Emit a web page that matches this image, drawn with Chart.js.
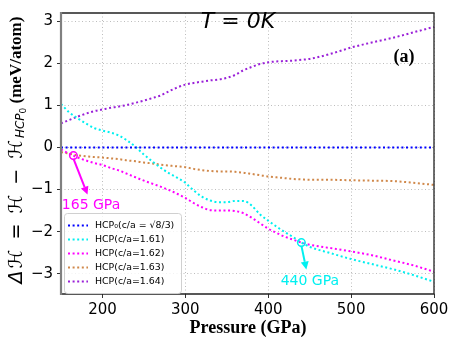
<!DOCTYPE html>
<html>
<head>
<meta charset="utf-8">
<script src="https://cdn.jsdelivr.net/npm/chart.js@4.4.1/dist/chart.umd.min.js"></script>
<style>
html,body{margin:0;padding:0;background:#fff;}
#wrap{width:457px;height:346px;position:relative;}
</style>
</head>
<body>
<div id="wrap"><canvas id="c" width="457" height="346"></canvas></div>
<script>
// ---- data ----
const pressure = [150,160,170,180,190,200,210,220,230,240,250,260,270,280,290,300,310,320,330,340,350,360,370,380,390,400,410,420,430,440,450,475,500,525,550,575,600];
const hcp0   = pressure.map(() => 0);
const ca161  = [1.03,0.83,0.69,0.57,0.46,0.40,0.35,0.28,0.16,0.01,-0.17,-0.33,-0.48,-0.61,-0.72,-0.84,-1.02,-1.17,-1.26,-1.30,-1.30,-1.27,-1.27,-1.38,-1.59,-1.74,-1.88,-2.01,-2.13,-2.26,-2.36,-2.51,-2.65,-2.77,-2.89,-3.03,-3.19];
const ca162  = [-0.05,-0.15,-0.24,-0.31,-0.37,-0.42,-0.49,-0.55,-0.63,-0.71,-0.79,-0.86,-0.93,-1.01,-1.10,-1.20,-1.32,-1.42,-1.49,-1.50,-1.50,-1.51,-1.56,-1.67,-1.80,-1.93,-2.03,-2.12,-2.19,-2.26,-2.31,-2.39,-2.47,-2.56,-2.68,-2.80,-2.95];
const ca163  = [-0.11,-0.15,-0.19,-0.21,-0.23,-0.24,-0.26,-0.28,-0.31,-0.33,-0.36,-0.38,-0.41,-0.43,-0.45,-0.47,-0.51,-0.54,-0.56,-0.57,-0.57,-0.58,-0.60,-0.63,-0.66,-0.69,-0.71,-0.73,-0.75,-0.76,-0.77,-0.77,-0.78,-0.79,-0.80,-0.84,-0.89];
const ca164  = [0.57,0.65,0.73,0.80,0.86,0.90,0.94,0.97,1.01,1.06,1.11,1.17,1.23,1.33,1.42,1.49,1.53,1.56,1.59,1.61,1.65,1.72,1.83,1.91,1.98,2.02,2.04,2.05,2.06,2.08,2.10,2.22,2.37,2.49,2.60,2.73,2.86];
const seriesLabels = ['HCP\u2080(c/a = \u221A8/3)','HCP(c/a=1.61)','HCP(c/a=1.62)','HCP(c/a=1.63)','HCP(c/a=1.64)'];
const xTicks = [200,300,400,500,600];
const yTicks = [-3,-2,-1,0,1,2,3];
// annotations: marker (p,v), arrow end (ep,ev), label anchor (tp,tv)
const note165 = {p:165, v:-0.195, ep:182, ev:-1.12, text:'165 GPa', tp:151, tv:-1.38};
const note440 = {p:440, v:-2.26, ep:446, ev:-2.9, text:'440 GPa', tp:415, tv:-3.17};

const colors = ['#0000ff','#00f0f0','#ff00ff','#d0884a','#9a20d8'];
const series = [hcp0, ca161, ca162, ca163, ca164];

const datasets = series.map((s,i)=>({
  label: seriesLabels[i],
  data: pressure.map((p,j)=>({x:p,y:s[j]})),
  borderColor: colors[i],
  backgroundColor: colors[i],
  borderWidth: 2,
  borderDash: [2,2.6],
  borderCapStyle: 'butt',
  pointRadius: 0,
  cubicInterpolationMode: 'monotone',
  fill: false
}));

function arrow(ctx, x1,y1,x2,y2,color){
  ctx.save();
  ctx.strokeStyle=color; ctx.fillStyle=color; ctx.lineWidth=2;
  const a=Math.atan2(y2-y1,x2-x1), hl=8, hw=4;
  const bx=x2-hl*Math.cos(a), by=y2-hl*Math.sin(a);
  ctx.beginPath(); ctx.moveTo(x1,y1); ctx.lineTo(bx,by); ctx.stroke();
  ctx.beginPath(); ctx.moveTo(x2,y2);
  ctx.lineTo(bx+hw*Math.sin(a), by-hw*Math.cos(a));
  ctx.lineTo(bx-hw*Math.sin(a), by+hw*Math.cos(a));
  ctx.closePath(); ctx.fill();
  ctx.restore();
}

const decor = {
  id:'decor',
  afterDatasetsDraw(chart){
    const {ctx, chartArea:ca, scales:{x,y}} = chart;
    // spines
    ctx.save();
    ctx.strokeStyle='#222'; ctx.lineWidth=1.3;
    ctx.beginPath();
    ctx.moveTo(ca.left,ca.top); ctx.lineTo(ca.right,ca.top); ctx.lineTo(ca.right,ca.bottom); ctx.lineTo(ca.left,ca.bottom);
    ctx.stroke();
    ctx.strokeStyle='#808080'; ctx.lineWidth=2.2;
    ctx.beginPath(); ctx.moveTo(ca.left,ca.top-1); ctx.lineTo(ca.left,ca.bottom+1); ctx.stroke();
    ctx.restore();

    // annotations
    [[note165,colors[2]],[note440,colors[1]]].forEach(([n,c])=>{
      const px=x.getPixelForValue(n.p), py=y.getPixelForValue(n.v);
      ctx.save();
      ctx.strokeStyle=c; ctx.lineWidth=1.5;
      ctx.beginPath(); ctx.arc(px,py,3.8,0,Math.PI*2); ctx.stroke();
      ctx.restore();
      arrow(ctx, px, py+3, x.getPixelForValue(n.ep), y.getPixelForValue(n.ev), c);
      ctx.save();
      ctx.fillStyle=c; ctx.font='14px "DejaVu Sans"'; ctx.textBaseline='middle'; ctx.textAlign='left';
      ctx.fillText(n.text, x.getPixelForValue(n.tp), y.getPixelForValue(n.tv));
      ctx.restore();
    });

    // T = 0K and (a)
    ctx.save();
    ctx.fillStyle='#000';
    ctx.font='italic 22px "DejaVu Sans"'; ctx.textAlign='center'; ctx.textBaseline='middle';
    ctx.fillText('T = 0K', 238, 22);
    ctx.font='bold 18px "Liberation Serif"';
    ctx.fillText('(a)', 404, 57);
    ctx.restore();

    // legend
    const lx=64, ly=213, lw=117, lh=80;
    ctx.save();
    ctx.fillStyle='rgba(255,255,255,0.8)'; ctx.strokeStyle='#d0d0d0'; ctx.lineWidth=1;
    ctx.beginPath(); ctx.roundRect(lx+0.5,ly+0.5,lw,lh,3); ctx.fill(); ctx.stroke();
    chart.data.datasets.forEach((d,i)=>{
      const yy = ly+12.5+i*14;
      ctx.strokeStyle=d.borderColor; ctx.lineWidth=2; ctx.setLineDash([2,2.6]);
      ctx.beginPath(); ctx.moveTo(68,yy); ctx.lineTo(88,yy); ctx.stroke();
      ctx.setLineDash([]);
      ctx.fillStyle='#000'; ctx.font='9.4px "DejaVu Sans"'; ctx.textBaseline='middle'; ctx.textAlign='left';
      ctx.fillText(d.label, 95, yy);
    });
    ctx.restore();

    // y label
    ctx.save();
    ctx.translate(17,150); ctx.rotate(-Math.PI/2);
    ctx.fillStyle='#000'; ctx.textBaseline='middle'; ctx.textAlign='left';
    const f1='italic 19px "DejaVu Sans"', f2='italic 12px "DejaVu Sans"', f3='9px "DejaVu Sans"', f4='bold 17px "Liberation Serif"';
    const p1='\u0394\u210B = \u210B \u2212 \u210B', p2='HCP', p3='0', p4=' (meV/atom)';
    ctx.letterSpacing='2px';
    ctx.font=f1; const w1=ctx.measureText(p1).width;
    ctx.letterSpacing='0px';
    ctx.font=f2; const w2=ctx.measureText(p2).width;
    ctx.font=f3; const w3=ctx.measureText(p3).width;
    ctx.font=f4; const w4=ctx.measureText(p4).width;
    let cx=-(w1+w2+w3+w4)/2;
    ctx.letterSpacing='2px';
    ctx.font=f1; ctx.fillText(p1,cx,0); cx+=w1;
    ctx.letterSpacing='0px';
    ctx.font=f2; ctx.fillText(p2,cx,4); cx+=w2;
    ctx.font=f3; ctx.fillText(p3,cx,7); cx+=w3;
    ctx.font=f4; ctx.fillText(p4,cx,0);
    ctx.restore();

    // x label
    ctx.save();
    ctx.fillStyle='#000'; ctx.font='bold 18px "Liberation Serif"'; ctx.textAlign='center'; ctx.textBaseline='middle';
    ctx.fillText('Pressure (GPa)', 248, 328);
    ctx.restore();
  }
};

new Chart(document.getElementById('c'), {
  type:'line',
  data:{datasets},
  options:{
    responsive:false, animation:false, devicePixelRatio:1,
    layout:{padding:{top:7,right:23,left:0,bottom:0}},
    plugins:{legend:{display:false}, tooltip:{enabled:false}},
    scales:{
      x:{type:'linear', min:150, max:600,
        afterBuildTicks(s){ s.ticks = xTicks.map(v=>({value:v})); },
        afterFit(s){ s.height=52; },
        ticks:{color:'#000', font:{family:'DejaVu Sans', size:15}, padding:3, maxRotation:0},
        grid:{color:'#bdbdbd', lineWidth:1, drawTicks:true, tickLength:4, tickColor:'#333', tickWidth:1, tickBorderDash:[]},
        border:{display:false, dash:[1,2.5]}
      },
      y:{type:'linear', min:-3.48, max:3.19,
        afterBuildTicks(s){ s.ticks = yTicks.map(v=>({value:v})); },
        afterFit(s){ s.width=61; },
        ticks:{color:'#000', font:{family:'DejaVu Sans', size:15}, padding:4,
          callback:(v)=> (v<0? '\u2212'+Math.abs(v) : ''+v)},
        grid:{color:'#bdbdbd', lineWidth:1, drawTicks:true, tickLength:4, tickColor:'#333', tickWidth:1, tickBorderDash:[]},
        border:{display:false, dash:[1,2.5]}
      }
    }
  },
  plugins:[decor]
});
</script>
</body>
</html>
